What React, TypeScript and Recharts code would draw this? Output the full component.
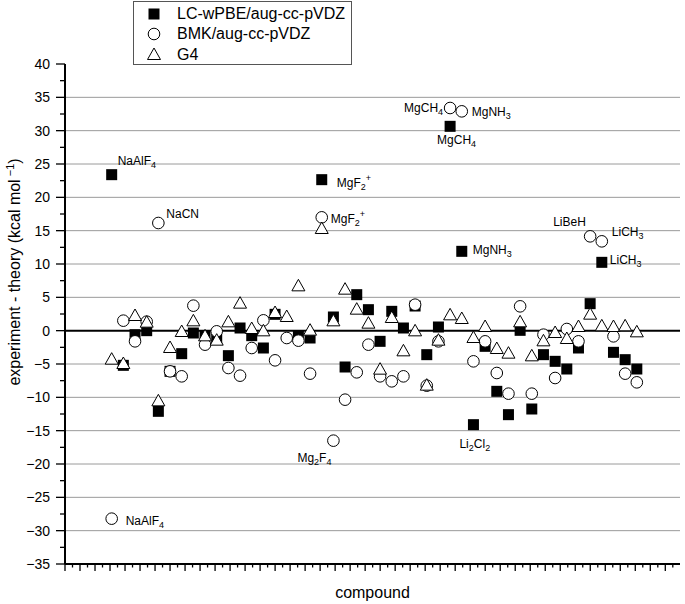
import React from "react";
import { ScatterChart, Scatter, XAxis, YAxis, ReferenceLine, ReferenceDot } from "recharts";

// compound index 1..46
const compounds = Array.from({ length: 46 }, (_, i) => i + 1);

const lcwpbe: (number | null)[] = [
  23.4, -5.2, -0.6, 0, -12.1, -6.1, -3.45, -0.35, -0.75, -1.3,
  -3.75, 0.4, -0.75, -2.6, 2.45, null, -0.75, -1.1, 22.65, 2.05,
  -5.45, 5.4, 3.15, -1.6, 2.9, 0.4, 3.7, -3.6, 0.55, 30.65,
  11.9, -14.1, -2.35, -9.1, -12.6, 0.05, -11.75, -3.6, -4.6, -5.75,
  -2.6, 4.05, 10.25, -3.25, -4.35, -5.75,
];
const bmk: (number | null)[] = [
  -28.2, 1.5, -1.6, 1.35, 16.15, -6.1, -6.85, 3.75, -2.1, -0.1,
  -5.6, -6.75, -2.6, 1.55, -4.45, -1.1, -1.5, -6.45, 17.0, -16.5,
  -10.35, -6.25, -2.1, -6.85, -7.6, -6.85, 3.9, -8.25, -1.6, 33.4,
  32.9, -4.6, -1.6, -6.35, -9.45, 3.65, -9.45, -0.6, -7.1, 0.25,
  -1.6, 14.15, 13.4, -0.85, -6.45, -7.75,
];
const g4: (number | null)[] = [
  -4.35, -5.0, 2.2, 1.2, -10.6, -2.6, -0.2, 1.4, -0.85, -1.5,
  1.25, 4.05, 0.25, -0.1, 2.65, 2.05, 6.65, 0, 15.25, 1.4,
  6.15, 3.15, 1.05, -5.85, 1.9, -3.1, -0.1, -8.25, -1.5, 2.3,
  1.75, -1.1, 0.55, -2.75, -3.45, 1.25, -3.85, -1.6, -0.35, -1.25,
  0.55, 2.4, 0.65, 0.55, 0.65, -0.25,
];

const yTicks = Array.from({ length: 31 }, (_, i) => -35 + i * 2.5);
const gridValues = [-35, -30, -25, -20, -15, -10, -5, 5, 10, 15, 20, 25, 30, 35];
const X_MIN = -3;
const X_MAX = 49.7;
const xTicks = Array.from({ length: 82 }, (_, k) => +(X_MIN + k * 0.643).toFixed(3));

type Part = { t: string; sub?: boolean; sup?: boolean };
const annotations: { series: "lc" | "bmk"; idx: number; parts: Part[]; dx: number; dy: number }[] = [
  { series: "lc", idx: 0, parts: [{ t: "NaAlF" }, { t: "4", sub: true }], dx: 6, dy: -10 },
  { series: "bmk", idx: 4, parts: [{ t: "NaCN" }], dx: 8, dy: -5 },
  { series: "lc", idx: 18, parts: [{ t: "MgF" }, { t: "2", sub: true }, { t: "+", sup: true }], dx: 15, dy: 7 },
  { series: "bmk", idx: 18, parts: [{ t: "MgF" }, { t: "2", sub: true }, { t: "+", sup: true }], dx: 9, dy: 6 },
  { series: "bmk", idx: 19, parts: [{ t: "Mg" }, { t: "2", sub: true }, { t: "F" }, { t: "4", sub: true }], dx: -36, dy: 21 },
  { series: "bmk", idx: 0, parts: [{ t: "NaAlF" }, { t: "4", sub: true }], dx: 14, dy: 6 },
  { series: "bmk", idx: 29, parts: [{ t: "MgCH" }, { t: "4", sub: true }], dx: -46, dy: 4 },
  { series: "bmk", idx: 30, parts: [{ t: "MgNH" }, { t: "3", sub: true }], dx: 10, dy: 5 },
  { series: "lc", idx: 29, parts: [{ t: "MgCH" }, { t: "4", sub: true }], dx: -13, dy: 18 },
  { series: "lc", idx: 30, parts: [{ t: "MgNH" }, { t: "3", sub: true }], dx: 11, dy: 3 },
  { series: "bmk", idx: 41, parts: [{ t: "LiBeH" }], dx: -37, dy: -10 },
  { series: "bmk", idx: 42, parts: [{ t: "LiCH" }, { t: "3", sub: true }], dx: 10, dy: -5 },
  { series: "lc", idx: 42, parts: [{ t: "LiCH" }, { t: "3", sub: true }], dx: 8, dy: 2 },
  { series: "lc", idx: 31, parts: [{ t: "Li" }, { t: "2", sub: true }, { t: "Cl" }, { t: "2", sub: true }], dx: -14, dy: 23 },
];

const FONT = "'Liberation Sans', Arial, sans-serif";

const toRows = (vals: (number | null)[]) =>
  compounds.map((c, i) => ({ x: c, y: vals[i] })).filter((r) => r.y !== null) as { x: number; y: number }[];

const SquareMark = (p: any) => <rect x={p.cx - 5.5} y={p.cy - 5.5} width={11} height={11} fill="#000" />;
const CircleMark = (p: any) => <circle cx={p.cx} cy={p.cy} r={5.8} fill="#fff" stroke="#000" strokeWidth={1} />;
const TriangleMark = (p: any) => (
  <path d={`M${p.cx},${p.cy - 7}L${p.cx + 6.5},${p.cy + 4.5}L${p.cx - 6.5},${p.cy + 4.5}Z`} fill="#fff" stroke="#000" strokeWidth={1} />
);

const XTick = (p: any) => (
  <line x1={p.x} x2={p.x} y1={p.y} y2={p.y + (p.index % 2 === 0 ? 7 : 3.5)} stroke="#000" strokeWidth={1.3} />
);

const YTick = (p: any) => {
  const v = p.payload.value;
  const major = Math.abs(v % 5) < 1e-6;
  return (
    <g>
      <line x1={p.x} x2={p.x - (major ? 9 : 5)} y1={p.y} y2={p.y} stroke="#000" strokeWidth={1.3} />
      {major && (
        <text x={p.x - 15} y={p.y} dy="0.36em" textAnchor="end" fontSize={14} fontFamily={FONT} fill="#000">
          {v < 0 ? `\u2212${-v}` : v}
        </text>
      )}
    </g>
  );
};

const YLabel = () => {
  const cx = 14;
  const cy = 272;
  return (
    <text x={cx} y={cy} transform={`rotate(-90 ${cx} ${cy})`} textAnchor="middle" dy="0.36em" fontSize={16} fontFamily={FONT} fill="#000">
      experiment - theory (kcal mol
      <tspan fontSize={11} dy={-6}> {"\u22121"}</tspan>
      <tspan dy={6}>)</tspan>
    </text>
  );
};

const Annotation = (item: (typeof annotations)[number]) => (p: any) => (
  <text x={p.cx + item.dx} y={p.cy + item.dy} fontSize={12} fontFamily={FONT} fill="#000">
    {item.parts.map((pt, i) => {
      if (pt.sub) return <tspan key={i} fontSize={9} dy={3}>{pt.t}</tspan>;
      if (pt.sup) return <tspan key={i} fontSize={9} dy={-9}>{pt.t}</tspan>;
      const prev = item.parts[i - 1];
      const back = prev ? (prev.sub ? -3 : prev.sup ? 6 : 0) : 0;
      return <tspan key={i} dy={back}>{pt.t}</tspan>;
    })}
  </text>
);

const legendItems = [
  { name: "LC-wPBE/aug-cc-pVDZ", Mark: SquareMark },
  { name: "BMK/aug-cc-pVDZ", Mark: CircleMark },
  { name: "G4", Mark: TriangleMark },
];

export default function App() {
  const lcRows = toRows(lcwpbe);
  const bmkRows = toRows(bmk);
  const g4Rows = toRows(g4);
  return (
    <div style={{ position: "absolute", left: 0, top: 0, width: 685, height: 604, background: "#fff" }}>
      <ScatterChart width={685} height={604} margin={{ top: 64, right: 5, bottom: 0, left: 15 }}>
        {gridValues.map((v) => (
          <ReferenceLine key={v} y={v} stroke="#9a9a9a" strokeWidth={1} />
        ))}
        <XAxis
          type="number"
          dataKey="x"
          domain={[X_MIN, X_MAX]}
          ticks={xTicks}
          interval={0}
          height={40}
          axisLine={{ stroke: "#000", strokeWidth: 2 }}
          tickLine={false}
          tickSize={0}
          tickMargin={0}
          tick={<XTick />}
          allowDataOverflow
          label={{ value: "compound", position: "insideBottom", offset: 6, fontSize: 16, fontFamily: FONT, fill: "#000" }}
        />
        <YAxis
          type="number"
          dataKey="y"
          domain={[-35, 40]}
          ticks={yTicks}
          interval={0}
          width={50}
          axisLine={{ stroke: "#000", strokeWidth: 2 }}
          tickLine={false}
          tickSize={0}
          tickMargin={0}
          tick={<YTick />}
          label={<YLabel />}
        />
        <ReferenceLine y={0} stroke="#000" strokeWidth={2} />
        <Scatter name="LC-wPBE/aug-cc-pVDZ" data={lcRows} shape={SquareMark} isAnimationActive={false} />
        <Scatter name="BMK/aug-cc-pVDZ" data={bmkRows} shape={CircleMark} isAnimationActive={false} />
        <Scatter name="G4" data={g4Rows} shape={TriangleMark} isAnimationActive={false} />
        {annotations.map((a, i) => {
          const vals = a.series === "lc" ? lcwpbe : bmk;
          return (
            <ReferenceDot key={i} x={compounds[a.idx]} y={vals[a.idx] as number} r={0} shape={Annotation(a)} />
          );
        })}
      </ScatterChart>
      <div
        style={{
          position: "absolute",
          left: 133,
          top: 1,
          width: 217,
          height: 62,
          border: "1px solid #555",
          background: "#fff",
          fontFamily: FONT,
          fontSize: 16,
        }}
      >
        {legendItems.map(({ name, Mark }, i) => (
          <div key={name} style={{ position: "absolute", left: 0, top: 2 + i * 20.3, height: 20, display: "flex", alignItems: "center" }}>
            <svg width={40} height={20} style={{ display: "block" }}>
              <Mark cx={20} cy={10} />
            </svg>
            <span style={{ marginLeft: 3, lineHeight: "20px" }}>{name}</span>
          </div>
        ))}
      </div>
    </div>
  );
}
